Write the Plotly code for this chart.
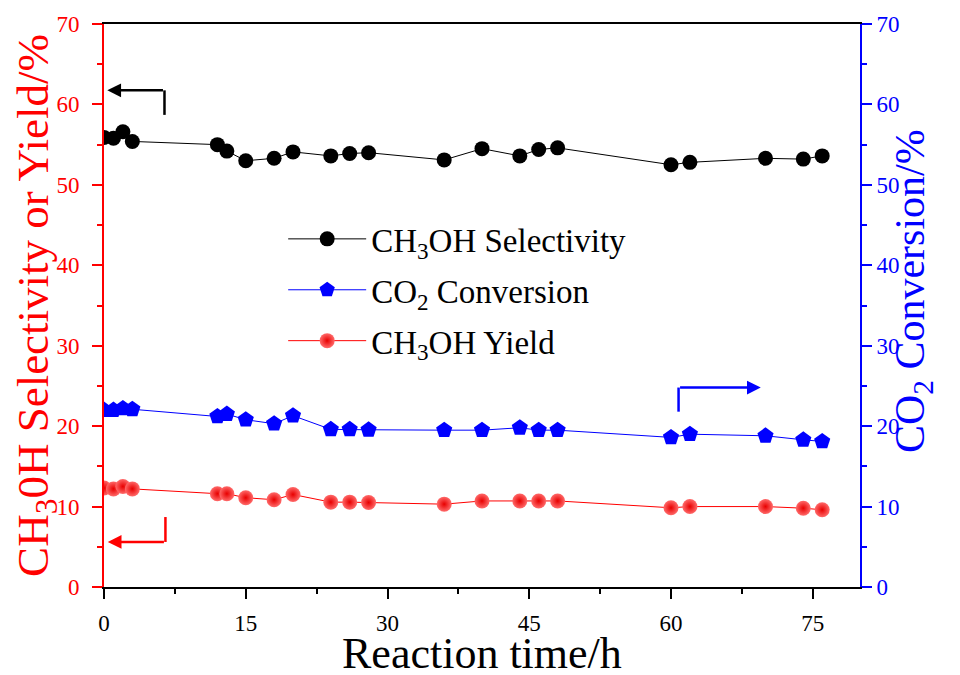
import plotly.graph_objects as go

time_h = [0, 1, 2, 3, 12, 13, 15, 18, 20, 24, 26, 28, 36, 40, 44, 46, 48, 60, 62, 70, 74, 76]
selectivity = [55.9, 55.8, 56.6, 55.4, 55.0, 54.2, 53.0, 53.3, 54.1, 53.6, 53.9, 54.0,
               53.1, 54.5, 53.6, 54.4, 54.6, 52.5, 52.8, 53.3, 53.2, 53.6]
conversion = [22.0, 22.0, 22.2, 22.1, 21.2, 21.5, 20.8, 20.3, 21.3, 19.6, 19.6, 19.55,
              19.5, 19.5, 19.8, 19.5, 19.5, 18.6, 19.0, 18.8, 18.3, 18.1]
yield_ = [12.3, 12.2, 12.5, 12.2, 11.6, 11.6, 11.1, 10.85, 11.5, 10.55, 10.55, 10.5,
          10.3, 10.7, 10.7, 10.7, 10.7, 9.85, 10.0, 10.0, 9.8, 9.6]

x_ticks = [0, 15, 30, 45, 60, 75]
y_ticks = [0, 10, 20, 30, 40, 50, 60, 70]

RED = "#ff0000"
BLUE = "#0000ff"
FONT = "Liberation Serif"

fig = go.Figure()
fig.add_trace(go.Scatter(
    x=time_h, y=selectivity, mode="lines+markers",
    name="CH<sub>3</sub>OH Selectivity", legendgroup="a",
    line=dict(color="black", width=1),
    marker=dict(symbol="circle", size=15, color="black"),
))
fig.add_trace(go.Scatter(
    x=time_h, y=conversion, mode="lines+markers", yaxis="y2",
    name="CO<sub>2</sub> Conversion", legendgroup="b",
    line=dict(color=BLUE, width=1),
    marker=dict(symbol="pentagon", size=17, color=BLUE),
))
fig.add_trace(go.Scatter(
    x=time_h, y=yield_, mode="lines+markers",
    name="CH<sub>3</sub>OH Yield", legendgroup="c",
    line=dict(color=RED, width=1),
    marker=dict(symbol="circle", size=15, color="#ff6a6a",
                gradient=dict(type="radial", color="#e80000")),
))

# direction arrows (annotation decorations)
arrows = [
    # (tip_x, tip_y, corner_x, corner_y, end_y, color, yref)
    (0.35, 61.75, 6.4, 61.75, 58.7, "black", "y"),
    (0.4, 5.6, 6.5, 5.6, 8.7, RED, "y"),
    (69.5, 24.8, 60.8, 24.8, 21.8, BLUE, "y2"),
]
for tx, ty, cx, cy, ey, col, yr in arrows:
    fig.add_annotation(x=tx, y=ty, ax=cx, ay=cy, xref="x", yref=yr, axref="x", ayref=yr,
                       showarrow=True, arrowhead=2, arrowsize=1.1, arrowwidth=2.5,
                       arrowcolor=col, text="")
    fig.add_shape(type="line", x0=cx, y0=cy, x1=cx, y1=ey, xref="x", yref=yr,
                  line=dict(color=col, width=2.5))

# right axis title placed as rotated text beside the blue axis
fig.add_annotation(text="CO<sub>2</sub> Conversion/%", xref="paper", yref="paper",
                   x=1.071, y=0.525, xanchor="center", yanchor="middle", textangle=-90,
                   showarrow=False, font=dict(size=42, family=FONT, color=BLUE))
# x axis title placed below the tick labels
fig.add_annotation(text="Reaction time/h", xref="paper", yref="paper",
                   x=0.5, y=-0.118, xanchor="center", yanchor="middle",
                   showarrow=False, font=dict(size=44, family=FONT, color="black"))

fig.update_layout(
    width=952, height=667,
    margin=dict(l=96, r=100, t=16, b=88),
    paper_bgcolor="white", plot_bgcolor="white",
    font=dict(family=FONT, color="black"),
    showlegend=True,
    legend=dict(x=0.237, y=0.668, xanchor="left", yanchor="top",
                bgcolor="rgba(0,0,0,0)", font=dict(size=33, family=FONT),
                itemwidth=78, tracegroupgap=5),
    xaxis=dict(
        range=[0, 80], tickvals=x_ticks, ticks="outside", ticklen=10, tickwidth=1.5,
        tickcolor="black", showline=True, linecolor="black", linewidth=2, mirror=True,
        showgrid=False, zeroline=False, ticklabelstandoff=4, automargin=False,
        tickfont=dict(size=23, family=FONT, color="black"),
        minor=dict(dtick=7.5, ticks="outside", ticklen=5, tickcolor="black", tickwidth=1.5, showgrid=False),
    ),
    yaxis=dict(
        range=[0, 70], tickvals=y_ticks, ticks="outside", ticklen=10, tickwidth=1.5,
        tickcolor=RED, showline=True, linecolor=RED, linewidth=2,
        showgrid=False, zeroline=False, ticklabelstandoff=8, automargin=False,
        tickfont=dict(size=23, family=FONT, color=RED),
        minor=dict(dtick=5, ticks="outside", ticklen=5, tickcolor=RED, tickwidth=1.5, showgrid=False),
        title=dict(text="CH<sub>3</sub>0H Selectivity or Yield/%", font=dict(size=45, family=FONT, color=RED), standoff=2),
    ),
    yaxis2=dict(
        range=[0, 70], tickvals=y_ticks, ticks="outside", ticklen=10, tickwidth=1.5,
        tickcolor=BLUE, showline=True, linecolor=BLUE, linewidth=2,
        overlaying="y", side="right", showgrid=False, zeroline=False, ticklabelstandoff=0,
        automargin=False,
        tickfont=dict(size=23, family=FONT, color=BLUE),
        minor=dict(dtick=5, ticks="outside", ticklen=5, tickcolor=BLUE, tickwidth=1.5, showgrid=False),
    ),
)

fig.write_html("out.html")
